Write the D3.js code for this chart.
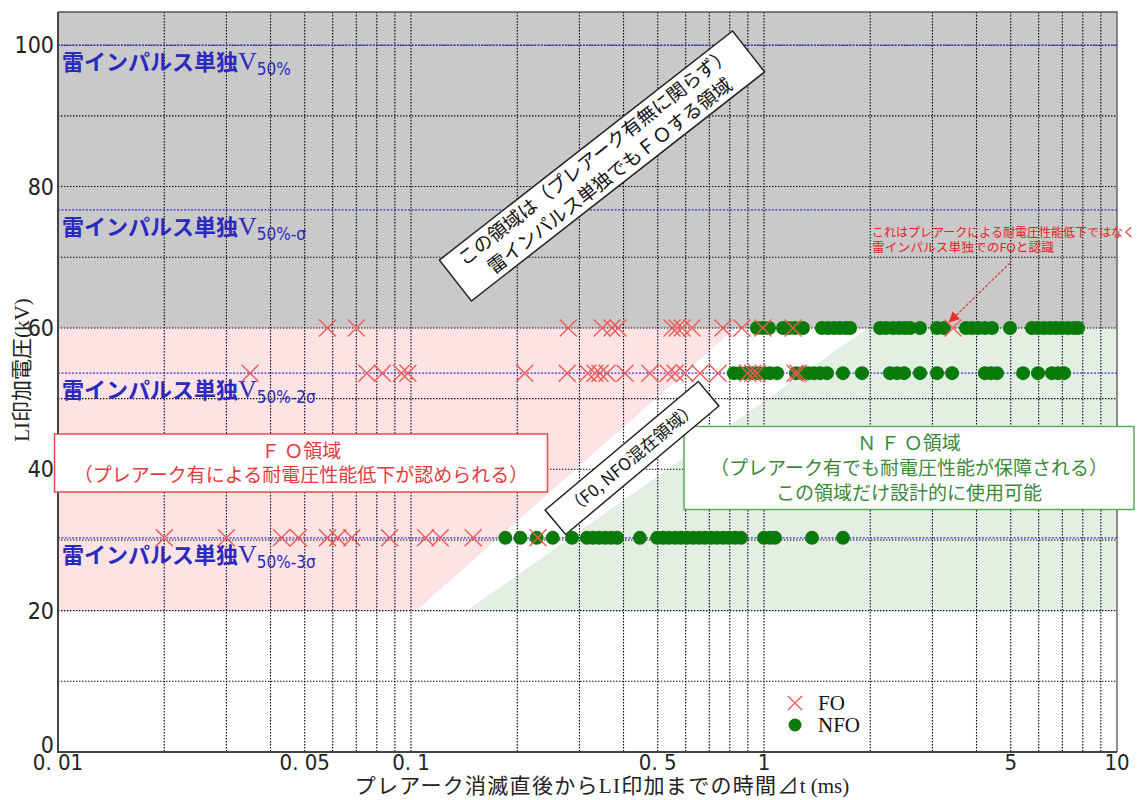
<!DOCTYPE html>
<html>
<head>
<meta charset="utf-8">
<script src="https://cdn.jsdelivr.net/npm/d3@7"></script>
<style>
body { margin: 0; background: #fff; }
</style>
</head>
<body>
<svg id="chart" width="1148" height="800" font-family='"Noto Sans CJK JP", sans-serif'></svg>
<script>
// FO / NFO results, time after pre-arc extinction (ms), one array per voltage row
const foRow60 = [0.058, 0.070, 0.279, 0.348, 0.371, 0.386, 0.549, 0.567, 0.586, 0.625, 0.765, 0.866, 0.993, 1.208, 3.43];
const foRow53 = [0.035, 0.075, 0.083, 0.094, 0.098, 0.210, 0.277, 0.317, 0.332, 0.343, 0.359, 0.404, 0.475, 0.535,
    0.560, 0.597, 0.659, 0.741, 0.90, 0.93, 0.955, 1.224, 1.248];
const foRow30 = [0.020, 0.030, 0.043, 0.048, 0.058, 0.062, 0.068, 0.087, 0.110, 0.121, 0.150, 0.229];
const nfoRow60 = [0.955, 0.993, 1.033, 1.132, 1.177, 1.224, 1.289, 1.459, 1.518, 1.578, 1.641, 1.707, 1.753,
    2.132, 2.217, 2.319, 2.411, 2.507, 2.593, 2.767, 3.092, 3.234, 3.734, 3.883, 4.038, 4.226, 4.425, 4.977,
    5.745, 5.974, 6.212, 6.460, 6.718, 6.986, 7.265, 7.555, 7.754];
const nfoRow53 = [0.822, 0.855, 0.889, 0.925, 0.962, 1.000, 1.040, 1.089, 1.232, 1.281, 1.333, 1.386, 1.442,
    1.508, 1.674, 1.895, 2.275, 2.382, 2.493, 2.767, 3.092, 3.410, 4.226, 4.395, 4.571, 5.418, 5.974, 6.543,
    6.805, 7.077];
const nfoRow30 = [0.185, 0.204, 0.227, 0.252, 0.286, 0.315, 0.328, 0.341, 0.355, 0.369, 0.384, 0.445, 0.498,
    0.518, 0.538, 0.560, 0.582, 0.605, 0.630, 0.655, 0.681, 0.708, 0.736, 0.766, 0.796, 0.828, 0.861, 1.000,
    1.040, 1.074, 1.368, 1.674];
const rowKV = [60, 53.6, 30.3];

// lightning impulse alone: V50%, V50%-σ, -2σ, -3σ
const sigmaKV = [100, 76.7, 53.6, 30.3];
const sigmaSub = ["50%", "50%-σ", "50%-2σ", "50%-3σ"];

// region corners (ms, kV)
const pinkZone = [[0.01, 20], [0.01, 60], [0.83, 60], [0.1033, 20]];
const greenZone = [[0.144, 20], [1.97, 60], [10, 60], [10, 20]];

const yTicks = [0, 20, 40, 60, 80, 100];
const xTicks = [0.01, 0.05, 0.1, 0.5, 1, 5, 10];
const xTickLabels = ["0. 01", "0. 05", "0. 1", "0. 5", "1", "5", "10"];

const svg = d3.select("#chart");
const L = 58, R = 1117, T = 12, B = 752;
const serif = '"Liberation Serif", "DejaVu Serif", serif',
    narrow = '"Liberation Sans Narrow", "DejaVu Sans Condensed", sans-serif';

let x = d3.scaleLog().domain([0.01, 10]).range([L, R]),
    y = d3.scaleLinear().domain([0, 104.7]).range([B, T]);

let zone = d3.line().x(d => x(d[0])).y(d => y(d[1]));

// background zones
svg.append('rect')
    .attr('x', L).attr('y', T)
    .attr('width', R - L).attr('height', y(60) - T)
    .attr('fill', '#c9c9c9');
svg.append('path').attr('d', zone(pinkZone) + 'Z').attr('fill', '#fde3e3');
svg.append('path').attr('d', zone(greenZone) + 'Z').attr('fill', '#e3efe3');

// grid
let grid = svg.append('g')
    .attr('stroke', '#000')
    .attr('stroke-width', 1.1)
    .attr('stroke-dasharray', '1.4,1.6');
grid.selectAll('line.v')
    .data(x.ticks().filter(d => d > 0.01 && d < 10))
    .enter().append('line')
    .attr('x1', d => x(d)).attr('x2', d => x(d))
    .attr('y1', T).attr('y2', B);
grid.selectAll('line.h')
    .data(d3.range(10, 101, 10))
    .enter().append('line')
    .attr('x1', L).attr('x2', R)
    .attr('y1', d => y(d)).attr('y2', d => y(d));

// frame
svg.append('path')
    .attr('d', `M${L},${T}H${R}V${B}`)
    .attr('fill', 'none').attr('stroke', '#555').attr('stroke-width', 1.3);
svg.append('path')
    .attr('d', `M${L},${T}V${B}H${R}`)
    .attr('fill', 'none').attr('stroke', '#444').attr('stroke-width', 2);

// sigma lines + labels
svg.append('g').selectAll('line')
    .data(sigmaKV)
    .enter().append('line')
    .attr('x1', L).attr('x2', R)
    .attr('y1', d => y(d)).attr('y2', d => y(d))
    .attr('stroke', '#3434d4')
    .attr('stroke-width', 1.3)
    .attr('stroke-dasharray', '2,1.5');

let sLab = svg.append('g').selectAll('text')
    .data(sigmaKV)
    .enter().append('text')
    .attr('x', L + 4)
    .attr('y', d => y(d) + 25)
    .attr('fill', '#2a2ac0');
sLab.append('tspan')
    .attr('font-size', 22).attr('font-weight', 'bold')
    .text('雷インパルス単独');
sLab.append('tspan')
    .attr('font-family', serif)
    .attr('font-size', 26)
    .text('V');
sLab.append('tspan')
    .attr('font-family', narrow)
    .attr('font-size', 17)
    .attr('dy', 5)
    .text((d, i) => sigmaSub[i]);

// axis tick labels
svg.append('g').selectAll('text')
    .data(yTicks)
    .enter().append('text')
    .attr('x', L - 4)
    .attr('y', d => y(d) + (d ? 8 : 1))
    .attr('text-anchor', 'end')
    .attr('font-family', narrow)
    .attr('font-size', 23)
    .attr('fill', '#222')
    .text(d => d);
svg.append('g').selectAll('text')
    .data(xTicks)
    .enter().append('text')
    .attr('x', d => x(d))
    .attr('y', B + 18)
    .attr('text-anchor', 'middle')
    .attr('font-family', narrow)
    .attr('font-size', 22)
    .attr('fill', '#222')
    .text((d, i) => xTickLabels[i]);

// axis titles
let xt = svg.append('text')
    .attr('x', 602).attr('y', 793)
    .attr('text-anchor', 'middle')
    .attr('font-size', 21)
    .attr('letter-spacing', 1.3)
    .attr('fill', '#222');
xt.append('tspan').text('プレアーク消滅直後から');
xt.append('tspan').attr('font-family', serif).text('LI');
xt.append('tspan').text('印加までの時間⊿');
xt.append('tspan').attr('font-family', serif).attr('letter-spacing', 0).text('t (ms)');

let yt = svg.append('text')
    .attr('transform', 'translate(29,370) rotate(-90)')
    .attr('text-anchor', 'middle')
    .attr('font-size', 21)
    .attr('fill', '#222');
yt.append('tspan').attr('font-family', serif).text('LI');
yt.append('tspan').text('印加電圧');
yt.append('tspan').attr('font-family', serif).text('(kV)');

// annotation boxes
function box(cx, cy, w, h, angle, stroke, color, lines, fs) {
    let g = svg.append('g').attr('transform', `translate(${cx},${cy}) rotate(${angle})`);
    g.append('rect')
        .attr('x', -w / 2).attr('y', -h / 2)
        .attr('width', w).attr('height', h)
        .attr('fill', '#fff')
        .attr('stroke', stroke)
        .attr('stroke-width', 1.5);
    let lh = fs * 1.3;
    g.selectAll('text')
        .data(lines)
        .enter().append('text')
        .attr('x', 0)
        .attr('y', (d, i) => (i - (lines.length - 1) / 2) * lh + fs * 0.36)
        .attr('text-anchor', 'middle')
        .attr('font-size', fs)
        .attr('fill', color)
        .text(d => d);
}
box(602, 166, 372, 52, -38, '#222', '#111',
    ['この領域は（プレアーク有無に関らず）', '雷インパルス単独でもＦＯする領域'], 19);
box(301, 463, 493, 58, 0, '#e84a4a', '#e8383d',
    ['Ｆ Ｏ領域', '（プレアーク有による耐電圧性能低下が認められる）'], 19);
box(909, 468, 450, 83, 0, '#5aab5a', '#3a8a3a',
    ['Ｎ Ｆ Ｏ領域', '（プレアーク有でも耐電圧性能が保障される）', 'この領域だけ設計的に使用可能'], 19);
box(632, 458, 200, 32, -40, '#222', '#111', ['（F0, NFO混在領域）'], 17);

// data points
let rowsNfo = [nfoRow60, nfoRow53, nfoRow30],
    rowsFo = [foRow60, foRow53, foRow30];

rowsNfo.forEach((row, i) => {
    svg.append('g').selectAll('circle')
        .data(row)
        .enter().append('circle')
        .attr('cx', d => x(d))
        .attr('cy', y(rowKV[i]))
        .attr('r', 7)
        .attr('fill', '#0a7a0a');
});
rowsFo.forEach((row, i) => {
    svg.append('g').selectAll('path')
        .data(row)
        .enter().append('path')
        .attr('transform', d => `translate(${x(d)},${y(rowKV[i])})`)
        .attr('d', 'M-8.5,-8.5L8.5,8.5M-8.5,8.5L8.5,-8.5')
        .attr('stroke', '#ee5a5a')
        .attr('stroke-width', 1.4);
});

// red note + arrow
svg.append('defs').append('marker')
    .attr('id', 'ah')
    .attr('viewBox', '0 0 10 10')
    .attr('refX', 9).attr('refY', 5)
    .attr('markerWidth', 9).attr('markerHeight', 9)
    .attr('orient', 'auto')
    .append('path').attr('d', 'M0,0L10,5L0,10Z').attr('fill', '#e83030');
svg.append('line')
    .attr('x1', 1010).attr('y1', 263)
    .attr('x2', x(3.35)).attr('y2', y(60) - 6)
    .attr('stroke', '#e83030')
    .attr('stroke-width', 1.2)
    .attr('stroke-dasharray', '3,1.5')
    .attr('marker-end', 'url(#ah)');
let note = svg.append('g').attr('fill', '#e82020').attr('font-size', 12);
note.append('text').attr('x', 872).attr('y', 237)
    .text('これはプレアークによる耐電圧性能低下ではなく');
note.append('text').attr('x', 872).attr('y', 252)
    .attr('textLength', 182).attr('lengthAdjust', 'spacingAndGlyphs')
    .text('雷インパルス単独でのFOと認識');

// legend
let lg = svg.append('g');
lg.append('path')
    .attr('transform', 'translate(795,703)')
    .attr('d', 'M-7,-7L7,7M-7,7L7,-7')
    .attr('stroke', '#ee5a5a').attr('stroke-width', 1.4);
lg.append('circle')
    .attr('cx', 795).attr('cy', 725).attr('r', 6.5)
    .attr('fill', '#0a7a0a');
lg.selectAll('text')
    .data(['FO', 'NFO'])
    .enter().append('text')
    .attr('x', 818)
    .attr('y', (d, i) => 710 + i * 22)
    .attr('font-family', serif)
    .attr('font-size', 21)
    .attr('fill', '#111')
    .text(d => d);
</script>
</body>
</html>
